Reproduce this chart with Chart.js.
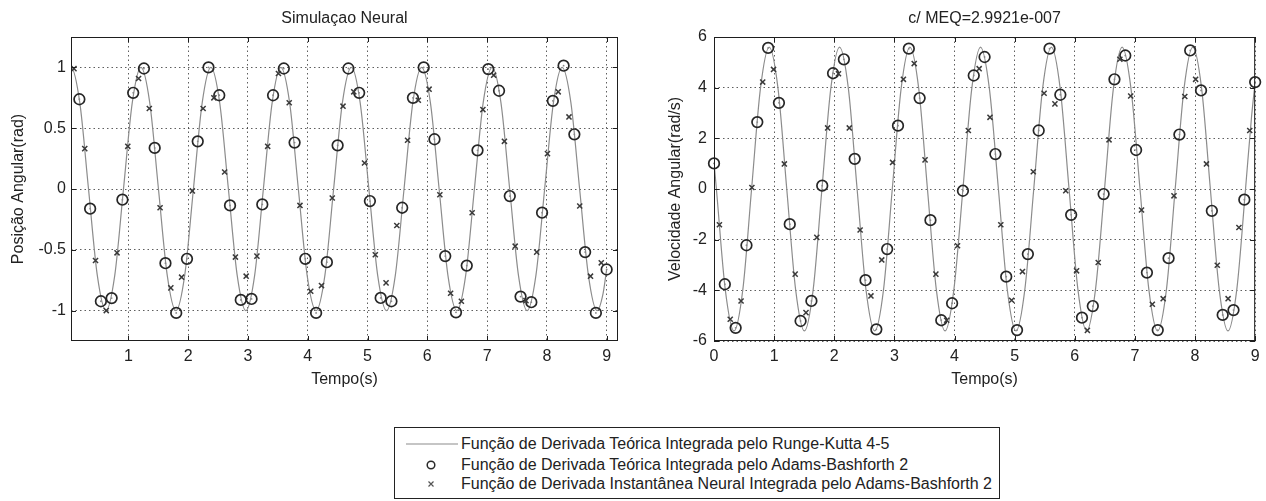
<!DOCTYPE html>
<html><head><meta charset="utf-8">
<script src="https://cdn.jsdelivr.net/npm/chart.js@4.4.0/dist/chart.umd.min.js"></script>
<style>
html,body{margin:0;padding:0;background:#fff;width:1266px;height:501px;overflow:hidden;position:relative;font-family:'Liberation Sans',Arial,sans-serif;}
canvas{position:absolute;top:0;}
#c1{left:0px} #c2{left:626px}
#legend{position:absolute;left:394px;top:427px;width:606px;height:72px;border:1px solid #222;box-sizing:border-box;background:#fff;}
.row{position:absolute;left:66px;font-size:16px;color:#222;white-space:nowrap;line-height:20px;height:20px}
#legend svg{position:absolute;left:0;top:0}
</style>
</head><body>
<canvas id="c1" width="640" height="400"></canvas>
<canvas id="c2" width="640" height="400"></canvas>
<div id="legend">
<svg width="64" height="70">
<line x1="11" y1="16" x2="63" y2="16" stroke="#8c8c8c" stroke-width="1.2"/>
<circle cx="36" cy="37" r="3.8" fill="none" stroke="#2a2a2a" stroke-width="1.5"/>
<path d="M33.5 53.5 L38.5 58.5 M38.5 53.5 L33.5 58.5" stroke="#555" stroke-width="1.2"/>
</svg>
<div class="row" style="top:6px">Função de Derivada Teórica Integrada pelo Runge-Kutta 4-5</div>
<div class="row" style="top:27px">Função de Derivada Teórica Integrada pelo Adams-Bashforth 2</div>
<div class="row" style="top:46px">Função de Derivada Instantânea Neural Integrada pelo Adams-Bashforth 2</div>
</div>
<script>
// ---------- DATA ----------
// reference solution (Runge-Kutta 4-5) read at extremes / crossings
const rkTime = [0,0.04,0.187,0.333,0.48,0.625,0.772,0.918,1.065,1.21,1.357,1.503,1.65,1.795,1.942,2.088,2.235,2.38,2.527,2.673,2.82,2.965,3.112,3.258,3.405,3.55,3.697,3.843,3.99,4.14,4.287,4.433,4.58,4.73,4.877,5.023,5.17,5.318,5.465,5.611,5.758,5.905,6.052,6.198,6.345,6.495,6.642,6.788,6.935,7.085,7.232,7.378,7.525,7.67,7.817,7.963,8.11,8.255,8.402,8.548,8.695,8.84,8.94,9.0];
const rkPos = [0.98,1,0.71,0,-0.71,-1,-0.71,0,0.71,1,0.71,0,-0.71,-1,-0.71,0,0.71,1,0.71,0,-0.71,-1,-0.71,0,0.71,1,0.71,0,-0.71,-1,-0.71,0,0.71,1,0.71,0,-0.71,-1,-0.71,0,0.71,1,0.71,0,-0.71,-1,-0.71,0,0.71,1,0.71,0,-0.71,-1,-0.71,0,0.71,1,0.71,0,-0.71,-1,-0.86,-0.66];
const rkVel = [1.05,0,-3.96,-5.6,-3.96,0,3.96,5.6,3.96,0,-3.96,-5.6,-3.96,0,3.96,5.6,3.96,0,-3.96,-5.6,-3.96,0,3.96,5.6,3.96,0,-3.96,-5.6,-3.96,0,3.96,5.6,3.96,0,-3.96,-5.6,-3.96,0,3.96,5.6,3.96,0,-3.96,-5.6,-3.96,0,3.96,5.6,3.96,0,-3.96,-5.6,-3.96,0,3.96,5.6,3.96,0,-3.96,-5.6,-3.96,0,2.85,4.22];

// Adams-Bashforth 2 (theoretical derivative) samples: circles
const abTime = [0,0.18,0.36,0.54,0.72,0.90,1.08,1.26,1.44,1.62,1.80,1.98,2.16,2.34,2.52,2.70,2.88,3.06,3.24,3.42,3.60,3.78,3.96,4.14,4.32,4.50,4.68,4.86,5.04,5.22,5.40,5.58,5.76,5.94,6.12,6.30,6.48,6.66,6.84,7.02,7.20,7.38,7.56,7.74,7.92,8.10,8.28,8.46,8.64,8.82,9.00];
const abPos = [null,0.738,-0.162,-0.923,-0.897,-0.088,0.791,0.991,0.338,-0.610,-1.019,-0.574,0.392,1.0,0.771,-0.135,-0.912,-0.904,-0.127,0.771,0.991,0.382,-0.574,-1.019,-0.602,0.359,0.991,0.791,-0.099,-0.896,-0.923,-0.154,0.750,1.0,0.409,-0.552,-1.014,-0.630,0.318,0.986,0.808,-0.058,-0.885,-0.931,-0.195,0.725,1.014,0.450,-0.519,-1.019,-0.662];
const abVel = [1.01,-3.76,-5.48,-2.22,2.64,5.57,3.40,-1.39,-5.21,-4.42,0.13,4.57,5.12,1.19,-3.60,-5.54,-2.37,2.50,5.54,3.59,-1.23,-5.18,-4.51,-0.07,4.48,5.21,1.38,-3.46,-5.57,-2.57,2.31,5.54,3.72,-1.02,-5.08,-4.62,-0.20,4.33,5.27,1.54,-3.30,-5.57,-2.73,2.15,5.47,3.89,-0.86,-4.97,-4.78,-0.42,4.22];

// Neural instantaneous derivative, Adams-Bashforth 2: crosses
const nnTime = [0.09,0.27,0.45,0.63,0.81,0.99,1.17,1.35,1.53,1.71,1.89,2.07,2.25,2.43,2.61,2.79,2.97,3.15,3.33,3.51,3.69,3.87,4.05,4.23,4.41,4.59,4.77,4.95,5.13,5.31,5.49,5.67,5.85,6.03,6.21,6.39,6.57,6.75,6.93,7.11,7.29,7.47,7.65,7.83,8.01,8.19,8.37,8.55,8.73,8.91];
const nnPos = [0.99,0.332,-0.588,-1.0,-0.525,0.351,0.909,0.662,-0.154,-0.813,-0.725,-0.016,0.662,0.750,0.140,-0.560,-0.717,-0.552,0.351,0.950,0.709,-0.135,-0.841,-0.794,-0.074,0.681,0.799,0.214,-0.541,-0.772,-0.300,0.401,0.730,0.821,-0.047,-0.857,-0.923,-0.195,0.653,0.936,0.392,-0.470,-0.918,-0.519,0.291,0.799,0.593,-0.140,-0.717,-0.607];
const nnVel = [-1.41,-5.14,-4.42,0.06,4.22,4.72,0.99,-3.36,-4.88,-1.91,2.41,4.55,2.41,-1.62,-4.22,-2.80,1.05,4.33,4.95,1.15,-3.36,-5.18,-2.24,2.31,4.75,2.83,-1.41,-4.39,-3.26,0.68,3.78,3.36,-0.07,-3.23,-5.58,-2.90,1.94,5.12,3.67,-0.83,-4.55,-4.33,-0.27,3.65,4.33,0.99,-3.01,-4.33,-1.52,2.31];

// tick labels
const xTicksLeft = [1,2,3,4,5,6,7,8,9];
const xTicksRight = [0,1,2,3,4,5,6,7,8,9];
const yTicksPos = [-1,-0.5,0,0.5,1];
const yTicksVel = [-6,-4,-2,0,2,4,6];

// ---------- CHARTS ----------
const FONT = "'Liberation Sans', Arial, sans-serif";
Chart.defaults.font.family = FONT;
Chart.defaults.font.size = 16;
Chart.defaults.color = '#222';

const pts = (xs, ys) => xs.map((x, i) => ({x: x, y: ys[i]})).filter(p => p.y !== null);

const frame = {
  id: 'frame',
  afterDraw(chart) {
    const {ctx, chartArea: a, scales: {x, y}} = chart;
    ctx.save();
    ctx.strokeStyle = '#1e1e1e';
    ctx.lineWidth = 1;
    ctx.setLineDash([]);
    ctx.strokeRect(a.left + 0.5, a.top + 0.5, a.right - a.left - 1, a.bottom - a.top - 1);
    ctx.beginPath();
    x.ticks.forEach(t => {
      const p = Math.round(x.getPixelForValue(t.value)) + 0.5;
      ctx.moveTo(p, a.bottom); ctx.lineTo(p, a.bottom - 5);
      ctx.moveTo(p, a.top); ctx.lineTo(p, a.top + 5);
    });
    y.ticks.forEach(t => {
      const p = Math.round(y.getPixelForValue(t.value)) + 0.5;
      ctx.moveTo(a.left, p); ctx.lineTo(a.left + 5, p);
      ctx.moveTo(a.right, p); ctx.lineTo(a.right - 5, p);
    });
    ctx.stroke();
    ctx.restore();
  }
};

function makeChart(id, cfg) {
  const gridOpts = {color: 'rgba(40,40,40,0.75)', lineWidth: 1, drawTicks: false};
  return new Chart(document.getElementById(id), {
    type: 'scatter',
    data: {datasets: [
      {type: 'line', data: pts(rkTime, cfg.rk), borderColor: '#8c8c8c', borderWidth: 1.2,
       pointRadius: 0, cubicInterpolationMode: 'monotone', fill: false, order: 10},
      {data: pts(abTime, cfg.ab), pointStyle: 'circle', pointRadius: 5.3, borderColor: '#262626',
       borderWidth: 1.7, backgroundColor: 'rgba(0,0,0,0)', clip: false, order: 2},
      {data: pts(abTime, cfg.ab), pointStyle: 'circle', pointRadius: 0.9, borderWidth: 0,
       backgroundColor: '#888', clip: false, order: 1},
      {data: pts(nnTime, cfg.nn), pointStyle: 'crossRot', pointRadius: 3.6, borderColor: '#3a3a3a',
       borderWidth: 1.5, clip: false, order: 0}
    ]},
    options: {
      responsive: false, animation: false, devicePixelRatio: 1,
      events: [],
      layout: {padding: {left: 0, right: cfg.padRight, top: 0, bottom: 0}},
      plugins: {
        legend: {display: false}, tooltip: {enabled: false},
        title: {display: true, text: cfg.title, fullSize: false, color: '#222',
                font: {size: 16, weight: 'normal', family: FONT}, padding: {top: 9.4, bottom: 8.4}}
      },
      scales: {
        x: {type: 'linear', min: cfg.xmin, max: cfg.xmax,
            afterBuildTicks: s => { s.ticks = cfg.xticks.map(v => ({value: v})); },
            afterFit: s => { s.height = 59; },
            grid: gridOpts, border: {display: false, dash: [1.5, 3]},
            ticks: {padding: 6.4, color: '#222', font: {size: 16}, maxRotation: 0, autoSkip: false,
                    callback: v => String(v)},
            title: {display: true, text: 'Tempo(s)', color: '#222', font: {size: 16},
                    padding: {top: 0, bottom: 10.4}}},
        y: {type: 'linear', min: cfg.ymin, max: cfg.ymax,
            afterBuildTicks: s => { s.ticks = cfg.yticks.map(v => ({value: v})); },
            afterFit: s => { s.width = cfg.yWidth; },
            grid: gridOpts, border: {display: false, dash: [1.5, 3]},
            ticks: {padding: cfg.yPad, color: '#222', font: {size: 16}, autoSkip: false,
                    callback: v => String(v)},
            title: {display: true, text: cfg.ytitle, color: '#222', font: {size: 16},
                    padding: {top: cfg.yTitlePad, bottom: 0}}}
      }
    },
    plugins: [frame]
  });
}

makeChart('c1', {rk: rkPos, ab: abPos, nn: nnPos, title: 'Simulaçao Neural',
  xmin: 0.04, xmax: 9.19, xticks: xTicksLeft, ymin: -1.25, ymax: 1.25, yticks: yTicksPos,
  yWidth: 71, yPad: 5, ytitle: 'Posição Angular(rad)', yTitlePad: 9.4, padRight: 22});
makeChart('c2', {rk: rkVel, ab: abVel, nn: nnVel, title: 'c/ MEQ=2.9921e-007',
  xmin: 0, xmax: 9, xticks: xTicksRight, ymin: -6, ymax: 6, yticks: yTicksVel,
  yWidth: 88, yPad: 7, ytitle: 'Velocidade Angular(rad/s)', yTitlePad: 40.4, padRight: 8});
</script>
</body></html>
